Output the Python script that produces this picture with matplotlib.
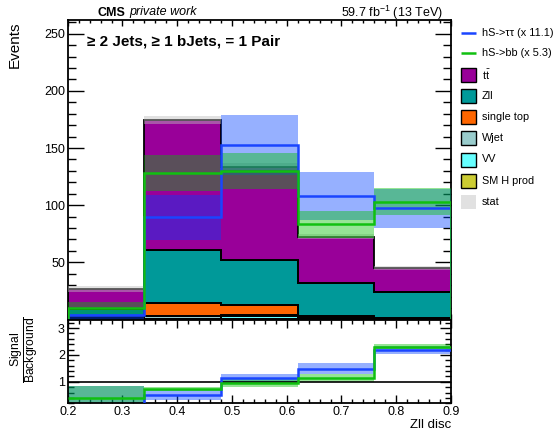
import numpy as np
import matplotlib
matplotlib.use("Agg")
import matplotlib.pyplot as plt
from matplotlib.patches import Rectangle
from matplotlib.ticker import MultipleLocator, FuncFormatter, FormatStrFormatter

plt.rcParams['font.family'] = ['Liberation Sans', 'DejaVu Sans']
plt.rcParams['mathtext.fontset'] = 'custom'
plt.rcParams['mathtext.rm'] = 'Liberation Sans'
plt.rcParams['mathtext.it'] = 'Liberation Sans:italic'
plt.rcParams['mathtext.bf'] = 'Liberation Sans:bold'

# ---- binning ----
bin_edges = [0.2, 0.34, 0.48, 0.62, 0.76, 0.9]

# ---- background yields (stack order bottom -> top) ----
sm_h_prod = [0.2, 0.3, 0.4, 0.3, 0.3]
vv = [0.3, 0.5, 2.8, 0.5, 0.3]
wjet = [0.5, 2.6, 0.3, 0.3, 0.2]
single_top = [1.5, 10.6, 9.5, 1.9, 0.2]
zll = [7.0, 46.8, 39.0, 28.6, 23.3]
ttbar = [17.2, 113.7, 81.6, 40.8, 20.4]
stat_err = [2.5, 3.2, 3.0, 2.0, 1.8]

# ---- scaled signals ----
sig_tautau = [4.0, 89.3, 152.5, 108.2, 97.2]
sig_tautau_err = [4.5, 19.7, 26.3, 21.0, 17.0]
sig_bb = [10.3, 128.0, 129.8, 83.2, 103.0]
sig_bb_err = [5.3, 16.0, 15.5, 11.6, 11.7]

# ---- ratio-panel uncertainties ----
ratio_tautau_err = [0.68, 0.19, 0.16, 0.22, 0.14]
ratio_bb_err = [0.44, 0.09, 0.15, 0.15, 0.10]

W, H = 558, 432
fig = plt.figure(figsize=(W / 100, H / 100), dpi=100)

def px_axes(x0, y0, x1, y1):
    return fig.add_axes([x0 / W, 1 - y1 / H, (x1 - x0) / W, (y1 - y0) / H])

ax = px_axes(67.7, 20, 451, 319.5)
rax = px_axes(67.7, 320, 451, 403.3)

edges = np.array(bin_edges)

stack = [
    (sm_h_prod, '#cccc33', 'SM H prod'),
    (vv, '#66ffff', 'VV'),
    (wjet, '#99cccc', 'Wjet'),
    (single_top, '#ff6600', 'single top'),
    (zll, '#009999', 'Zll'),
    (ttbar, '#990099', r'$\mathrm{t}\bar{\mathrm{t}}$'),
]

lower = np.zeros(len(edges) - 1)
for vals, col, _ in stack:
    upper = lower + np.array(vals)
    ax.stairs(upper, edges, baseline=lower, fill=True, facecolor=col,
              edgecolor='none', zorder=2)
    ax.stairs(upper, edges, baseline=lower, fill=False, color='black',
              linewidth=1.3, zorder=2.5)
    lower = upper
total_bkg = lower

stat = np.array(stat_err)
ax.stairs(total_bkg + stat, edges, baseline=total_bkg - stat, fill=True,
          facecolor='#bebebe', alpha=0.45, edgecolor='none', zorder=3)

blue_line = '#1a45ff'
blue_band = '#0040ff'
green_line = '#10c010'
green_band = '#00c200'

tt = np.array(sig_tautau)
tt_e = np.array(sig_tautau_err)
bb = np.array(sig_bb)
bb_e = np.array(sig_bb_err)

ax.stairs(tt + tt_e, edges, baseline=tt - tt_e, fill=True,
          facecolor=blue_band, alpha=0.41, edgecolor='none', zorder=4)
ax.stairs(bb + bb_e, edges, baseline=bb - bb_e, fill=True,
          facecolor=green_band, alpha=0.41, edgecolor='none', zorder=4.1)
ax.stairs(tt, edges, baseline=0, color=blue_line, linewidth=1.8, zorder=5)
ax.stairs(bb, edges, baseline=0, color=green_line, linewidth=1.8, zorder=5.1)

ax.set_xlim(0.2, 0.9)
ax.set_ylim(0, 262)

# ---- ratio panel ----
r_tt = tt / total_bkg
r_bb = bb / total_bkg
r_tt_e = np.array(ratio_tautau_err)
r_bb_e = np.array(ratio_bb_err)
rax.stairs(r_tt + r_tt_e, edges, baseline=r_tt - r_tt_e, fill=True,
           facecolor=blue_band, alpha=0.41, edgecolor='none', zorder=2)
rax.stairs(r_bb + r_bb_e, edges, baseline=r_bb - r_bb_e, fill=True,
           facecolor=green_band, alpha=0.41, edgecolor='none', zorder=2.1)
rax.axhline(1.0, color='black', linewidth=1.2, zorder=3)
rax.stairs(r_tt, edges, baseline=None, color=blue_line, linewidth=1.8, zorder=4)
rax.stairs(r_bb, edges, baseline=None, color=green_line, linewidth=1.8, zorder=4.1)
rax.set_xlim(0.2, 0.9)
rax.set_ylim(0.2, 3.3)

# ---- axes styling ----
for a in (ax, rax):
    for s in a.spines.values():
        s.set_linewidth(1.3)
    a.tick_params(which='both', direction='in', top=True, right=True,
                  width=1.0, labelsize=9, pad=2)
    a.xaxis.set_major_locator(MultipleLocator(0.1))
    a.xaxis.set_minor_locator(MultipleLocator(0.02))

ax.yaxis.set_major_locator(MultipleLocator(50))
ax.yaxis.set_minor_locator(MultipleLocator(10))
ax.yaxis.set_major_formatter(FuncFormatter(lambda v, p: '' if v == 0 else f'{v:.0f}'))
ax.tick_params(axis='y', which='major', length=11.5)
ax.tick_params(axis='y', which='minor', length=5.8)
ax.tick_params(axis='x', which='major', length=4.3)
ax.tick_params(axis='x', which='minor', length=2.2)
ax.tick_params(axis='x', labelbottom=False)

rax.yaxis.set_major_locator(MultipleLocator(1))
rax.yaxis.set_minor_locator(MultipleLocator(0.2))
rax.xaxis.set_major_formatter(FormatStrFormatter('%.1f'))
rax.tick_params(axis='y', which='major', length=7.9)
rax.tick_params(axis='y', which='minor', length=4.0)
rax.tick_params(axis='x', which='major', length=5.8)
rax.tick_params(axis='x', which='minor', length=2.9)

# ---- overlay for text and legend in pixel coordinates ----
ov = fig.add_axes([0, 0, 1, 1], zorder=10)
ov.set_xlim(0, W)
ov.set_ylim(H, 0)
ov.axis('off')

ov.text(15, 22, 'Events', rotation=90, ha='center', va='top', fontsize=11)
ov.text(25, 350, r'$\frac{\mathrm{Signal}}{\mathrm{Background}}$', rotation=90,
        ha='center', va='center', fontsize=12.5)
ov.text(451, 425, 'Zll disc', ha='right', va='center', fontsize=9.5)

ov.text(97.7, 12.5, 'CMS', ha='left', va='center', fontsize=9, fontweight='bold')
ov.text(129, 12.5, 'private work', ha='left', va='center', fontsize=9, style='italic')
ov.text(443, 12.5, r'59.7 fb$^{-1}$ (13 TeV)', ha='right', va='center', fontsize=9)

ov.text(86.7, 41, '\u2265 2 Jets, \u2265 1 bJets, = 1 Pair', ha='left', va='center',
        fontsize=11, fontweight='bold')

# legend
lx0, lx1 = 460.7, 476.0
tx = 481.7
leg_fs = 7.8
for y, col, lab in [(32.7, blue_line, 'hS->\u03c4\u03c4 (x 11.1)'),
                    (52.7, green_line, 'hS->bb (x 5.3)')]:
    ov.plot([lx0, lx1], [y, y], color=col, linewidth=1.8, solid_capstyle='butt')
    ov.text(tx, y, lab, ha='left', va='center', fontsize=leg_fs)

box_tops = [68.3, 88.8, 109.8, 131.0, 152.5, 173.8, 195.2]
box_h = 14.0
leg_items = [(c, l) for _, c, l in reversed(stack)] + [('stat', 'stat')]
for top, (col, lab) in zip(box_tops, leg_items):
    if col == 'stat':
        ov.add_patch(Rectangle((lx0, top), lx1 - lx0, box_h, facecolor='#bebebe',
                               alpha=0.45, edgecolor='none'))
    else:
        ov.add_patch(Rectangle((lx0, top), lx1 - lx0, box_h, facecolor=col,
                               edgecolor='black', linewidth=1.0))
    ov.text(tx, top + box_h / 2, lab, ha='left', va='center', fontsize=leg_fs)

fig.savefig('out.png', dpi=100)
